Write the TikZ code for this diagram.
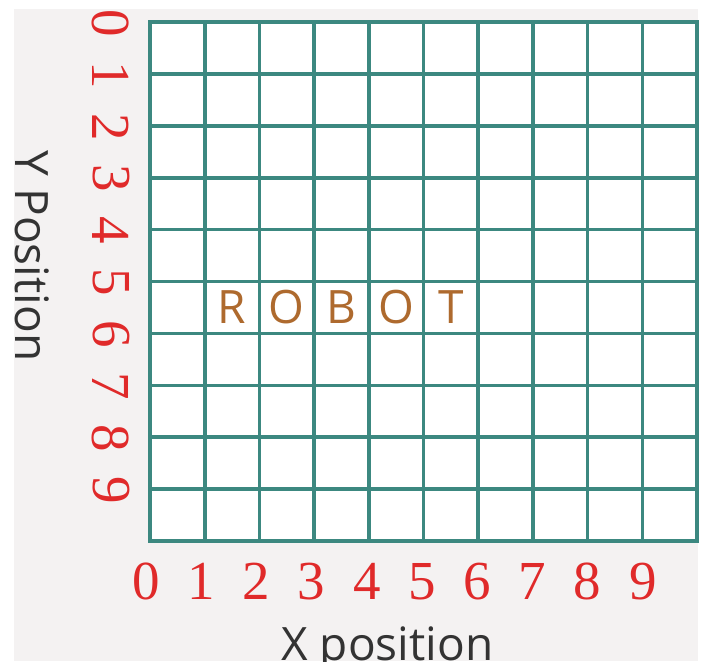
\documentclass[tikz,border=0pt]{standalone}
\usepackage{fontspec}
\setmainfont{Liberation Serif}
\newfontfamily\sansfont{Open Sans}
\definecolor{bgcol}{HTML}{F4F2F2}
\definecolor{gridcol}{HTML}{3C8880}
\definecolor{digitcol}{HTML}{E02A2A}
\definecolor{robotcol}{HTML}{AE6A2E}
\definecolor{axiscol}{HTML}{333333}
\tikzset{
  gridline/.style={draw=gridcol, line width=3.6pt, line cap=rect},
  xdigit/.style={text=digitcol, font=\fontsize{55}{55}\selectfont, inner sep=0pt, anchor=base},
  ydigit/.style={text=digitcol, font=\fontsize{55}{55}\selectfont, inner sep=0pt, anchor=center, rotate=-90},
  robotletter/.style={text=robotcol, font=\sansfont\fontsize{46}{46}\selectfont, inner sep=0pt, anchor=center},
  axislabel/.style={text=axiscol, font=\sansfont\fontsize{46}{46}\selectfont, inner sep=0pt, anchor=base}
}
\begin{document}
\begin{tikzpicture}[x=1pt,y=-1pt]
\useasboundingbox (0,0) rectangle (703,661);
\fill[white] (0,0) rectangle (703,661);
\fill[bgcol] (14,9) rectangle (698,661);
\fill[white] (150,22) rectangle (697,541);
\foreach \i in {0,...,10}
  \draw[gridline] ({150+54.7*\i},22) -- ({150+54.7*\i},541);
\foreach \j in {0,...,10}
  \draw[gridline] (150,{22+51.9*\j}) -- (697,{22+51.9*\j});
\foreach \i in {0,...,9}
  \node[xdigit] (x\i) at ({146+55.2*\i},599) {\i};
\foreach \j in {0,...,9}
  \node[ydigit] (y\j) at (111,{23+51.9*\j}) {\j};
\foreach \l [count=\k] in {R,O,B,O,T}
  \node[robotletter] (r\k) at ({150+54.7*(\k+0.5)},307.5) {\l};
\node[axislabel] (xlabel) at (387.5,660) {X position};
\node[axislabel, rotate=-90] (ylabel) at (15.5,256) {Y Position};
\end{tikzpicture}
\end{document}
